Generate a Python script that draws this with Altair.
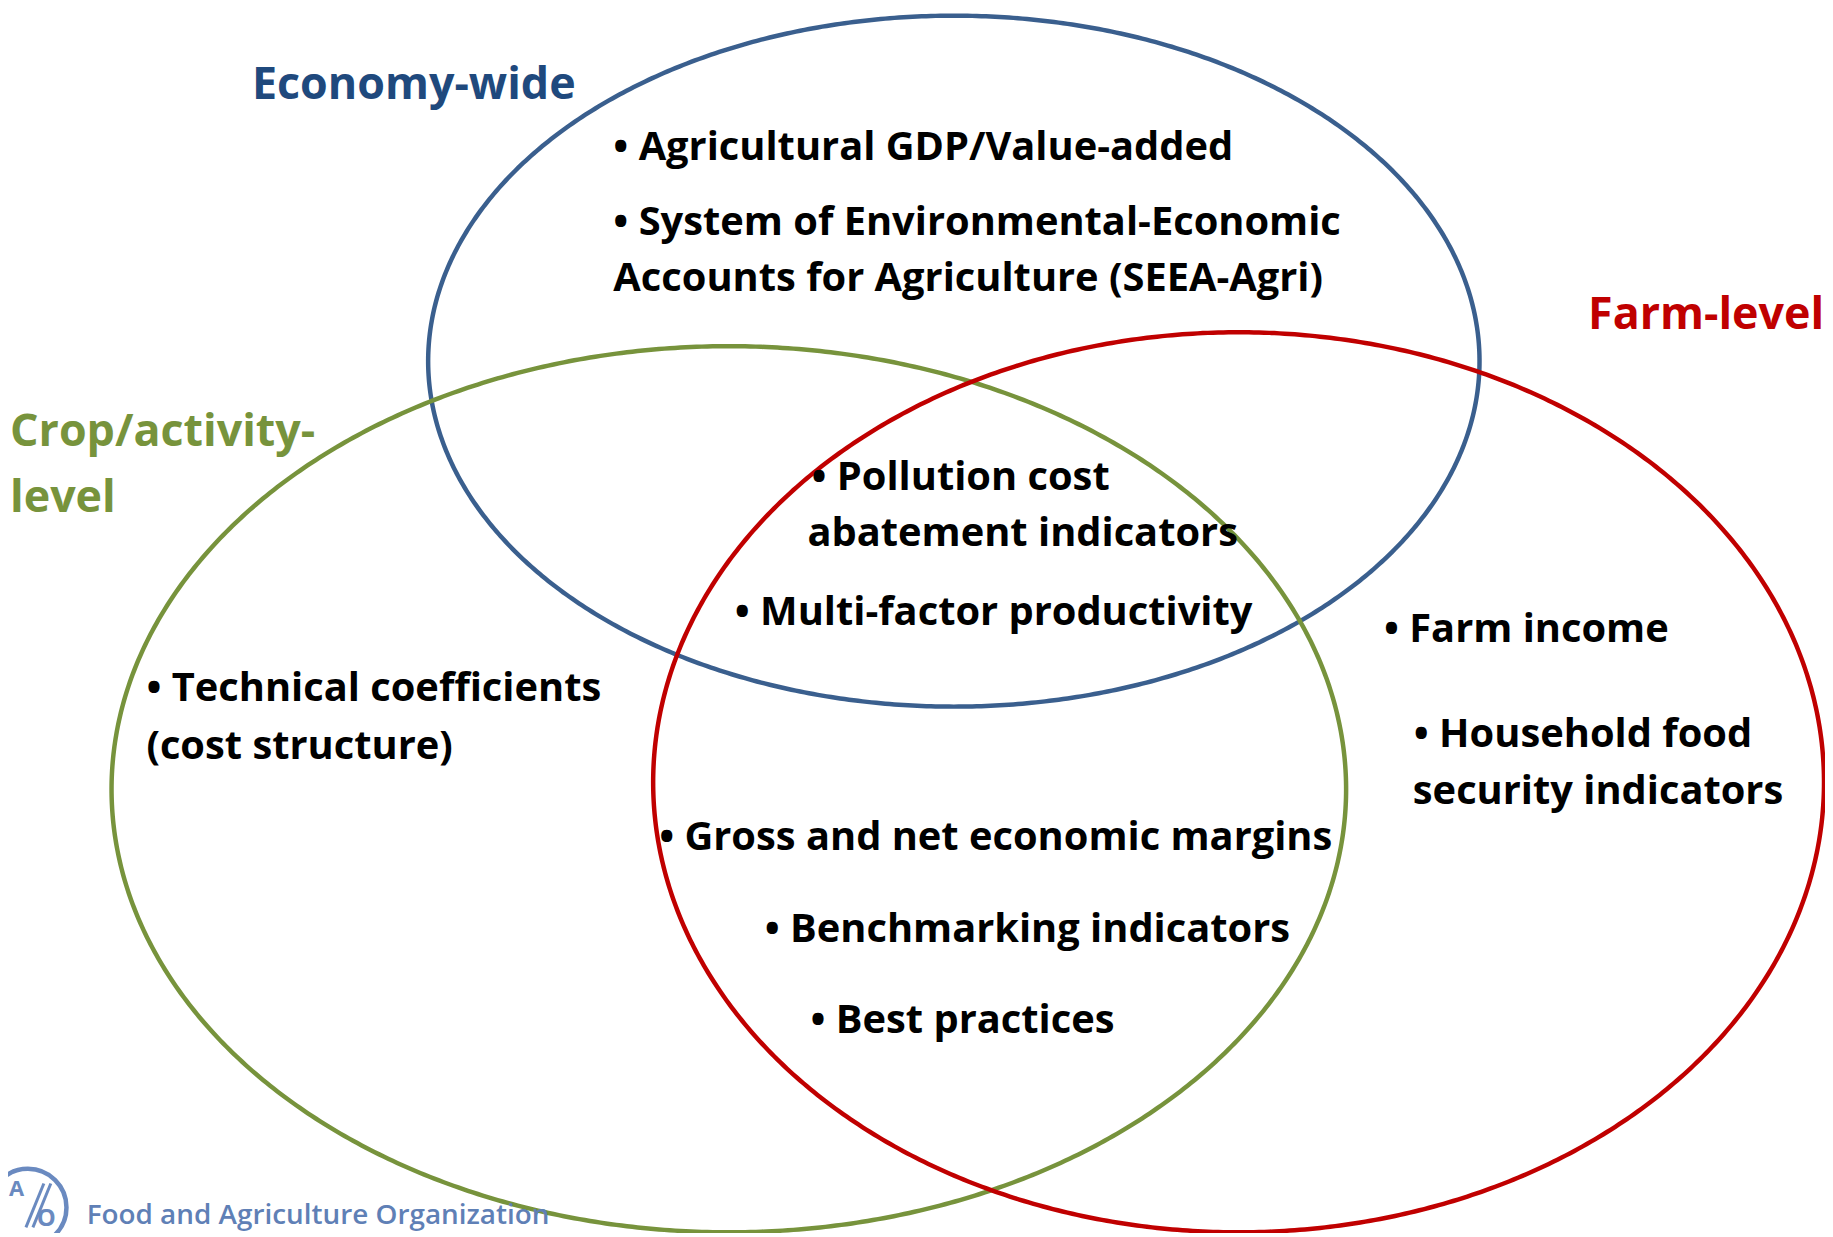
import numpy as np
import pandas as pd
import altair as alt

# ---- ellipse (set) definitions, in page pixel coordinates ----
set_names = ["Economy-wide", "Crop/activity-level", "Farm-level"]
set_cx = [958, 732, 1244]
set_cy = [360, 790, 783]
set_rx = [528, 620, 588]
set_ry = [347, 445, 452]
set_colors = ["#3A5F8E", "#77933C", "#C00000"]

# ---- text items ----
text_labels = [
    "Economy-wide", "Farm-level", "Crop/activity-", "level",
    "• Agricultural GDP/Value-added",
    "• System of Environmental-Economic",
    "Accounts for Agriculture (SEEA-Agri)",
    "• Pollution cost", "abatement indicators",
    "• Multi-factor productivity",
    "• Technical coefficients", "(cost structure)",
    "• Farm income", "• Household food", "security indicators",
    "• Gross and net economic margins",
    "• Benchmarking indicators",
    "• Best practices",
]
text_x = [253, 1595, 10, 10,
          616, 616, 616,
          815, 811, 738,
          147, 147,
          1390, 1420, 1419,
          662, 768, 814]
text_y = [97, 328, 445, 512,
          158, 233, 290,
          489, 546, 625,
          701, 760,
          642, 748, 805,
          851, 943, 1035]
text_colors = ["#1F497D", "#C00000", "#77933C", "#77933C"] + ["#000000"] * 14
text_sizes = [45, 45, 45, 45] + [40] * 14

# FAO footer
fao_text = ["Food and Agriculture Organization"]
fao_x = [87]
fao_y = [1227]
logo_x = [28]
logo_y = [1210]
logo_letters = ["A", "O"]
logo_letter_x = [9, 37]
logo_letter_y = [1199, 1229]
logo_letter_size = [22, 24]
slash_x1 = [26, 33]
slash_y1 = [1230, 1230]
slash_x2 = [44, 51]
slash_y2 = [1186, 1186]

X0, X1 = 8, 1833
Y0, Y1 = 8, 1233
W, H = X1 - X0, Y1 - Y0

xs = alt.Scale(domain=[X0, X1], nice=False, zero=False)
ys = alt.Scale(domain=[Y1, Y0], nice=False, zero=False)
X = lambda f: alt.X(f, scale=xs, axis=None)
Y = lambda f: alt.Y(f, scale=ys, axis=None)

rows = []
t = np.linspace(0, 2 * np.pi, 721)
for name, cx, cy, rx, ry, col in zip(set_names, set_cx, set_cy, set_rx, set_ry, set_colors):
    for i, a in enumerate(t):
        rows.append({"set": name, "i": i, "x": cx + rx * np.cos(a), "y": cy + ry * np.sin(a), "color": col})
ell = pd.DataFrame(rows)

lines = alt.Chart(ell).mark_line(strokeWidth=4.5, clip=False).encode(
    x=X("x:Q"), y=Y("y:Q"), detail="set:N", order="i:Q",
    color=alt.Color("color:N", scale=None),
)

tdf = pd.DataFrame({"text": text_labels, "x": text_x, "y": text_y, "color": text_colors, "size": text_sizes})
texts = alt.Chart(tdf).mark_text(align="left", baseline="alphabetic", font="Open Sans",
                                 fontWeight="bold", clip=False).encode(
    x=X("x:Q"), y=Y("y:Q"), text="text:N",
    color=alt.Color("color:N", scale=None),
    size=alt.Size("size:Q", scale=None),
)

fao = alt.Chart(pd.DataFrame({"t": fao_text, "x": fao_x, "y": fao_y})).mark_text(
    align="left", baseline="alphabetic", font="Open Sans", fontWeight=600, fontSize=28,
    color="#5F80B6", clip=False
).encode(x=X("x:Q"), y=Y("y:Q"), text="t:N")

logo_ring = alt.Chart(pd.DataFrame({"x": logo_x, "y": logo_y})).mark_point(
    shape="circle", size=6000, filled=False, strokeWidth=4.5, color="#6A8AC0", clip=False, opacity=1
).encode(x=X("x:Q"), y=Y("y:Q"))

logo_txt = alt.Chart(pd.DataFrame({"t": logo_letters, "x": logo_letter_x, "y": logo_letter_y,
                                   "s": logo_letter_size})).mark_text(
    align="left", baseline="alphabetic", font="Open Sans", fontWeight="bold",
    color="#6A8AC0", clip=False
).encode(x=X("x:Q"), y=Y("y:Q"), text="t:N", size=alt.Size("s:Q", scale=None))

logo_slash = alt.Chart(pd.DataFrame({"x": slash_x1, "y": slash_y1, "x2": slash_x2, "y2": slash_y2})).mark_rule(
    strokeWidth=3, color="#6A8AC0", clip=False
).encode(x=X("x:Q"), y=Y("y:Q"), x2="x2:Q", y2="y2:Q")

chart = alt.layer(lines, texts, fao, logo_ring, logo_slash, logo_txt).properties(
    width=W, height=H, padding=0, background="white",
    autosize=alt.AutoSizeParams(type="none")
).configure_view(stroke=None)

chart.save("out.html", embed_options={"renderer": "svg", "actions": False})
